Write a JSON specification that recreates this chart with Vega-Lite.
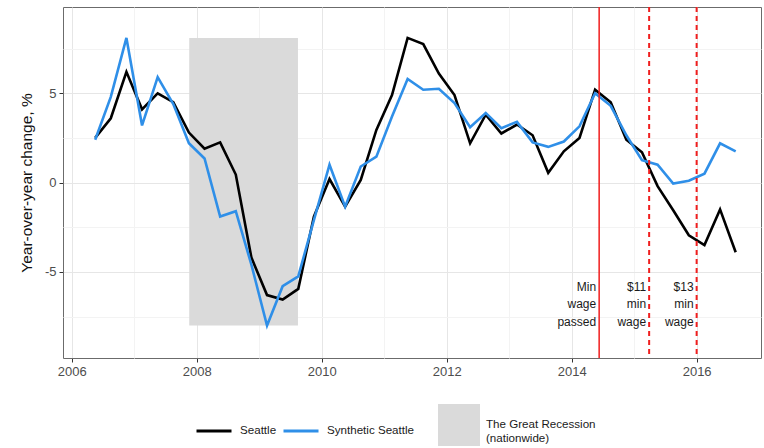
{
  "$schema": "https://vega.github.io/schema/vega-lite/v6.json",
  "width": 698,
  "height": 351,
  "autosize": {"type": "none"},
  "padding": {"left": 63, "top": 7, "right": 3, "bottom": 90},
  "background": "white",
  "config": {
    "font": "Liberation Sans",
    "view": {"stroke": "#6b6b6b", "strokeWidth": 1},
    "legend": {"labelFont": "Liberation Sans", "labelFontSize": 11.6, "labelColor": "#1a1a1a"}
  },
  "datasets": {
    "series": [
      {"t": 2006.375, "Seattle": 2.5, "Synthetic Seattle": 2.4},
      {"t": 2006.625, "Seattle": 3.6, "Synthetic Seattle": 4.8},
      {"t": 2006.875, "Seattle": 6.2, "Synthetic Seattle": 8.1},
      {"t": 2007.125, "Seattle": 4.1, "Synthetic Seattle": 3.2},
      {"t": 2007.375, "Seattle": 5.0, "Synthetic Seattle": 5.9},
      {"t": 2007.625, "Seattle": 4.5, "Synthetic Seattle": 4.4},
      {"t": 2007.875, "Seattle": 2.8, "Synthetic Seattle": 2.2},
      {"t": 2008.125, "Seattle": 1.9, "Synthetic Seattle": 1.35},
      {"t": 2008.375, "Seattle": 2.25, "Synthetic Seattle": -1.9},
      {"t": 2008.625, "Seattle": 0.45, "Synthetic Seattle": -1.6},
      {"t": 2008.875, "Seattle": -4.2, "Synthetic Seattle": -4.6},
      {"t": 2009.125, "Seattle": -6.3, "Synthetic Seattle": -8.0},
      {"t": 2009.375, "Seattle": -6.55, "Synthetic Seattle": -5.8},
      {"t": 2009.625, "Seattle": -5.95, "Synthetic Seattle": -5.25},
      {"t": 2009.875, "Seattle": -1.9, "Synthetic Seattle": -2.1},
      {"t": 2010.125, "Seattle": 0.2, "Synthetic Seattle": 1.0},
      {"t": 2010.375, "Seattle": -1.35, "Synthetic Seattle": -1.35},
      {"t": 2010.625, "Seattle": 0.15, "Synthetic Seattle": 0.9},
      {"t": 2010.875, "Seattle": 2.95, "Synthetic Seattle": 1.45},
      {"t": 2011.125, "Seattle": 4.9, "Synthetic Seattle": 3.7},
      {"t": 2011.375, "Seattle": 8.1, "Synthetic Seattle": 5.8},
      {"t": 2011.625, "Seattle": 7.75, "Synthetic Seattle": 5.2},
      {"t": 2011.875, "Seattle": 6.1, "Synthetic Seattle": 5.25},
      {"t": 2012.125, "Seattle": 4.9, "Synthetic Seattle": 4.45},
      {"t": 2012.375, "Seattle": 2.2, "Synthetic Seattle": 3.1},
      {"t": 2012.625, "Seattle": 3.8, "Synthetic Seattle": 3.9},
      {"t": 2012.875, "Seattle": 2.75, "Synthetic Seattle": 3.05},
      {"t": 2013.125, "Seattle": 3.25, "Synthetic Seattle": 3.4},
      {"t": 2013.375, "Seattle": 2.65, "Synthetic Seattle": 2.25},
      {"t": 2013.625, "Seattle": 0.55, "Synthetic Seattle": 2.0},
      {"t": 2013.875, "Seattle": 1.75, "Synthetic Seattle": 2.3},
      {"t": 2014.125, "Seattle": 2.5, "Synthetic Seattle": 3.15},
      {"t": 2014.375, "Seattle": 5.2, "Synthetic Seattle": 5.0},
      {"t": 2014.625, "Seattle": 4.5, "Synthetic Seattle": 4.3},
      {"t": 2014.875, "Seattle": 2.4, "Synthetic Seattle": 2.65},
      {"t": 2015.125, "Seattle": 1.7, "Synthetic Seattle": 1.25},
      {"t": 2015.375, "Seattle": -0.2, "Synthetic Seattle": 1.0},
      {"t": 2015.625, "Seattle": -1.55, "Synthetic Seattle": -0.05},
      {"t": 2015.875, "Seattle": -2.95, "Synthetic Seattle": 0.1},
      {"t": 2016.125, "Seattle": -3.5, "Synthetic Seattle": 0.5},
      {"t": 2016.375, "Seattle": -1.5, "Synthetic Seattle": 2.2},
      {"t": 2016.625, "Seattle": -3.9, "Synthetic Seattle": 1.75}
    ],
    "recession": [
      {"start": 2007.88, "end": 2009.62, "low": -8.0, "high": 8.1, "label": "The Great Recession (nationwide)"}
    ],
    "events": [
      {"date": 2014.44, "kind": "passed", "label": "Min\nwage\npassed"},
      {"date": 2015.24, "kind": "in effect", "label": "$11\nmin\nwage"},
      {"date": 2016.0, "kind": "in effect", "label": "$13\nmin\nwage"}
    ]
  },
  "layer": [
    {
      "data": {"name": "recession"},
      "mark": {"type": "rect"},
      "encoding": {
        "x": {
          "field": "start", "type": "quantitative", "title": null,
          "scale": {"domain": [2005.86, 2017.03], "nice": false, "zero": false},
          "axis": {
            "values": [2006, 2007, 2008, 2009, 2010, 2011, 2012, 2013, 2014, 2015, 2016],
            "labelExpr": "datum.value % 2 == 0 ? format(datum.value, 'd') : ''",
            "domain": false,
            "tickSize": 4,
            "tickColor": {"condition": {"test": "datum.value % 2 == 0", "value": "#333333"}, "value": "transparent"},
            "gridColor": {"condition": {"test": "datum.value % 2 == 0", "value": "#e6e6e6"}, "value": "#f3f3f3"},
            "labelFontSize": 13,
            "labelColor": "#4d4d4d",
            "labelPadding": 3,
            "labelFlush": false,
            "labelOverlap": false
          }
        },
        "x2": {"field": "end"},
        "y": {
          "field": "low", "type": "quantitative",
          "title": "Year-over-year change, %",
          "scale": {"domain": [-9.82, 9.83], "nice": false, "zero": false},
          "axis": {
            "title": "Year-over-year change, %",
            "values": [-7.5, -5, -2.5, 0, 2.5, 5, 7.5],
            "labelExpr": "datum.value % 5 == 0 ? toString(datum.value) : ''",
            "domain": false,
            "tickSize": 4,
            "tickColor": {"condition": {"test": "datum.value % 5 == 0", "value": "#333333"}, "value": "transparent"},
            "gridColor": {"condition": {"test": "datum.value % 5 == 0", "value": "#e6e6e6"}, "value": "#f3f3f3"},
            "labelFontSize": 13,
            "labelColor": "#4d4d4d",
            "labelPadding": 3,
            "labelFlush": false,
            "labelOverlap": false,
            "titleFontSize": 15.5,
            "titleFontWeight": "normal",
            "titleColor": "#111111",
            "titlePadding": 10
          }
        },
        "y2": {"field": "high"},
        "fill": {
          "field": "label", "type": "nominal",
          "scale": {"range": ["#dadada"]},
          "legend": {
            "orient": "none", "legendX": 375, "legendY": 397, "title": null,
            "symbolType": "square", "symbolSize": 1764, "symbolStrokeWidth": 0,
            "symbolOpacity": 1,
            "labelOffset": 6,
            "labelExpr": "['The Great Recession', '(nationwide)']"
          }
        }
      }
    },
    {
      "mark": {"type": "rule", "color": "#555555", "strokeWidth": 1.2},
      "encoding": {"y": {"datum": 0, "title": "Year-over-year change, %"}}
    },
    {
      "data": {"name": "series"},
      "transform": [{"fold": ["Seattle", "Synthetic Seattle"], "as": ["series", "value"]}],
      "mark": {"type": "line", "strokeWidth": 2.6},
      "encoding": {
        "x": {"field": "t", "type": "quantitative", "title": null},
        "y": {"field": "value", "type": "quantitative", "title": "Year-over-year change, %"},
        "color": {
          "field": "series", "type": "nominal",
          "scale": {"domain": ["Seattle", "Synthetic Seattle"], "range": ["#000000", "#2f8fe8"]},
          "legend": {
            "orient": "none", "legendX": 132, "legendY": 405, "title": null,
            "direction": "horizontal",
            "symbolType": "stroke", "symbolSize": 1225, "symbolStrokeWidth": 3,
            "labelOffset": 7, "columnPadding": 0
          }
        }
      }
    },
    {
      "data": {"name": "events"},
      "mark": {"type": "rule", "color": "#f01e1e"},
      "encoding": {
        "x": {"field": "date", "type": "quantitative", "title": null},
        "strokeDash": {
          "field": "kind", "type": "nominal",
          "scale": {"domain": ["passed", "in effect"], "range": [[1, 0], [5, 4]]},
          "legend": null
        },
        "strokeWidth": {
          "field": "kind", "type": "nominal",
          "scale": {"domain": ["passed", "in effect"], "range": [1.5, 2]},
          "legend": null
        }
      }
    },
    {
      "data": {"name": "events"},
      "mark": {"type": "text", "align": "right", "baseline": "top", "dx": -3, "lineBreak": "\n", "fontSize": 12, "color": "#1a1a1a", "lineHeight": 17.5},
      "encoding": {
        "x": {"field": "date", "type": "quantitative", "title": null},
        "y": {"datum": -5.55, "title": "Year-over-year change, %"},
        "text": {"field": "label"}
      }
    }
  ]
}
